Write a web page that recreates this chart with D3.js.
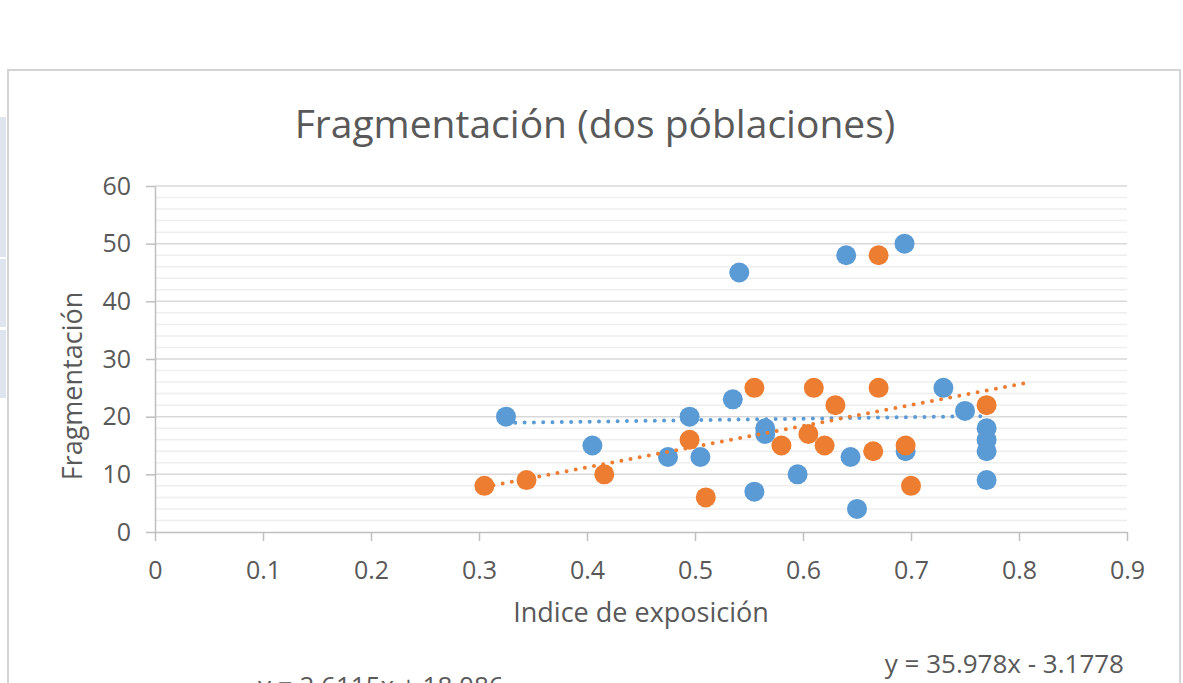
<!DOCTYPE html>
<html>
<head>
<meta charset="utf-8">
<script src="https://cdn.jsdelivr.net/npm/d3@7"></script>
<style>
	body { margin: 0; background: #ffffff; overflow: hidden; }
	svg text { font-family: "Open Sans", sans-serif; fill: #595959; }
</style>
</head>
<body>
<div id="chart"></div>
<script>
// serie azul (poblacion 1)
const blueX = [0.325, 0.405, 0.475, 0.495, 0.505, 0.535, 0.541, 0.555, 0.565, 0.565, 0.595, 0.64, 0.644, 0.65, 0.694, 0.695, 0.73, 0.75, 0.77, 0.77, 0.77, 0.77];
const blueY = [20, 15, 13, 20, 13, 23, 45, 7, 18, 17, 10, 48, 13, 4, 50, 14, 25, 21, 18, 16, 14, 9];

// serie naranja (poblacion 2)
const orangeX = [0.305, 0.344, 0.416, 0.495, 0.51, 0.555, 0.58, 0.605, 0.61, 0.62, 0.63, 0.665, 0.67, 0.67, 0.695, 0.70, 0.77];
const orangeY = [8, 9, 10, 16, 6, 25, 15, 17, 25, 15, 22, 14, 48, 25, 15, 8, 22];

// lineas de tendencia: [pendiente, intercepto, x inicio, x fin]
const blueTrend = [2.6115, 18.086, 0.325, 0.77];
const orangeTrend = [35.978, -3.1778, 0.305, 0.81];

const xTicks = [0, 0.1, 0.2, 0.3, 0.4, 0.5, 0.6, 0.7, 0.8, 0.9];
const yTicks = [0, 10, 20, 30, 40, 50, 60];
const yMinor = d3.range(0, 61, 2);

const chartTitle = "Fragmentación (dos póblaciones)";
const xTitle = "Indice de exposición";
const yTitle = "Fragmentación";
const blueLabel = "y = 2.6115x + 18.086";
const orangeLabel = "y = 35.978x - 3.1778";

function init() {
	const width = 1183;
	const height = 683;
	const margin = { top: 186, right: 56, bottom: 151, left: 155 };

	const blue = "#5b9bd5";
	const orange = "#ed7d31";

	const svg = d3.select("#chart")
		.append("svg")
		.attr("width", width)
		.attr("height", height);

	// paneles de la hoja detras del grafico
	[[117, 257], [259, 327], [330, 398]].forEach((p) => {
		svg.append("rect")
			.attr("x", 0).attr("y", p[0])
			.attr("width", 6).attr("height", p[1] - p[0])
			.attr("fill", "#dfe5ef");
	});

	// marco del grafico
	svg.append("rect")
		.attr("x", 8).attr("y", 70)
		.attr("width", 1172).attr("height", 640)
		.attr("fill", "#ffffff")
		.attr("stroke", "#d4d4d4")
		.attr("stroke-width", 2);

	const x = d3.scaleLinear()
		.domain([0, 0.9])
		.range([margin.left, width - margin.right]);

	const y = d3.scaleLinear()
		.domain([0, 60])
		.range([height - margin.bottom, margin.top]);

	// lineas de cuadricula secundarias
	svg.append("g")
		.selectAll("line")
		.data(yMinor.filter((d) => d % 10 !== 0))
		.join("line")
		.attr("x1", x(0)).attr("x2", x(0.9))
		.attr("y1", (d) => y(d)).attr("y2", (d) => y(d))
		.attr("stroke", "#eeeeee")
		.attr("stroke-width", 1.5);

	// lineas de cuadricula principales
	svg.append("g")
		.selectAll("line")
		.data(yTicks.filter((d) => d > 0))
		.join("line")
		.attr("x1", x(0)).attr("x2", x(0.9))
		.attr("y1", (d) => y(d)).attr("y2", (d) => y(d))
		.attr("stroke", "#d9d9d9")
		.attr("stroke-width", 1.5);

	const xAxis = (g) =>
		g.attr("transform", `translate(0, ${y(0)})`)
			.call(d3.axisBottom(x).tickValues(xTicks).tickFormat((d) => d).tickSize(9).tickSizeOuter(0).tickPadding(20))
			.call((g) => g.selectAll("line, path").attr("stroke", "#bfbfbf").attr("stroke-width", 1.5))
			.call((g) => g.selectAll("text").attr("font-size", 25).attr("font-family", "Open Sans").attr("fill", "#595959"));

	const yAxis = (g) =>
		g.attr("transform", `translate(${x(0)}, 0)`)
			.call(d3.axisLeft(y).tickValues(yTicks).tickSize(9).tickSizeOuter(0).tickPadding(15))
			.call((g) => g.selectAll("line, path").attr("stroke", "#bfbfbf").attr("stroke-width", 1.5))
			.call((g) => g.selectAll("text").attr("font-size", 25).attr("font-family", "Open Sans").attr("fill", "#595959"));

	svg.append("g").call(xAxis);
	svg.append("g").call(yAxis);

	// puntos
	svg.append("g")
		.selectAll("circle")
		.data(blueX.map((d, i) => [d, blueY[i]]))
		.join("circle")
		.attr("cx", (d) => x(d[0]))
		.attr("cy", (d) => y(d[1]))
		.attr("r", 10)
		.attr("fill", blue);

	svg.append("g")
		.selectAll("circle")
		.data(orangeX.map((d, i) => [d, orangeY[i]]))
		.join("circle")
		.attr("cx", (d) => x(d[0]))
		.attr("cy", (d) => y(d[1]))
		.attr("r", 10)
		.attr("fill", orange);

	// tendencias
	const line = d3.line()
		.x((d) => x(d[0]))
		.y((d) => y(d[1]));

	[[blueTrend, blue], [orangeTrend, orange]].forEach((t) => {
		const c = t[0];
		const pts = [c[2], c[3]].map((v) => [v, c[0] * v + c[1]]);
		svg.append("path")
			.datum(pts)
			.attr("fill", "none")
			.attr("stroke", t[1])
			.attr("stroke-width", 4)
			.attr("stroke-linecap", "round")
			.attr("stroke-dasharray", "0 9.3")
			.attr("d", line);
	});

	// textos
	svg.append("text")
		.attr("x", 595).attr("y", 138)
		.attr("text-anchor", "middle")
		.attr("font-size", 39)
		.text(chartTitle);

	svg.append("text")
		.attr("x", 641).attr("y", 622)
		.attr("text-anchor", "middle")
		.attr("font-size", 27)
		.text(xTitle);

	svg.append("text")
		.attr("transform", "translate(82, 386) rotate(-90)")
		.attr("text-anchor", "middle")
		.attr("font-size", 27)
		.text(yTitle);

	svg.append("text")
		.attr("x", 1124).attr("y", 673)
		.attr("text-anchor", "end")
		.attr("font-size", 26)
		.text(orangeLabel);

	svg.append("text")
		.attr("x", 258).attr("y", 695)
		.attr("font-size", 26)
		.text(blueLabel);
}

init();
</script>
</body>
</html>
